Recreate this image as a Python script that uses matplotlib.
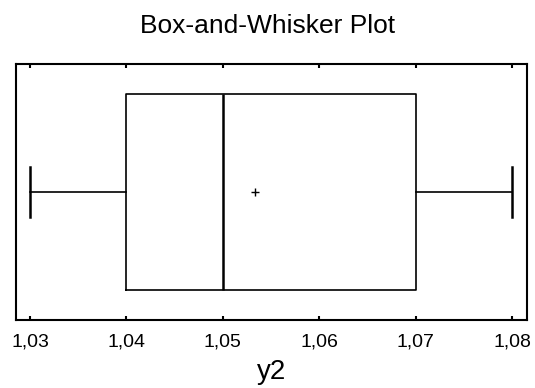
import matplotlib
matplotlib.use('Agg')
import matplotlib.pyplot as plt

plt.rcParams['font.family'] = ['Liberation Sans', 'DejaVu Sans']

# summary statistics of y2
q1 = 1.04
median = 1.05
q3 = 1.07
whisker_lo = 1.03
whisker_hi = 1.08
mean = 1.0533

ticks = [1.03, 1.04, 1.05, 1.06, 1.07, 1.08]
tick_labels = ['1,03', '1,04', '1,05', '1,06', '1,07', '1,08']

stats = [{
    'med': median, 'q1': q1, 'q3': q3,
    'whislo': whisker_lo, 'whishi': whisker_hi,
    'mean': mean, 'fliers': [],
}]

fig = plt.figure(figsize=(5.35, 3.88), dpi=100)
ax = fig.add_axes([16/535, 1 - 320/388, 511/535, 256/388])

ax.bxp(stats, positions=[0.5], widths=0.766, vert=False, showmeans=True,
       manage_ticks=False, capwidths=0.193,
       boxprops=dict(color='black', linewidth=1.2),
       whiskerprops=dict(color='black', linewidth=1.2),
       capprops=dict(color='black', linewidth=1.8),
       medianprops=dict(color='black', linewidth=1.8),
       meanprops=dict(marker='+', markeredgecolor='black', markersize=6,
                      markeredgewidth=1.0))

ax.set_ylim(0, 1)
ax.set_xlim(1.02855, 1.08156)
ax.set_yticks([])
ax.set_xticks(ticks)
ax.set_xticklabels(tick_labels, fontsize=14)
ax.tick_params(axis='x', direction='in', top=True, length=3, width=1.5, pad=10)
for s in ax.spines.values():
    s.set_linewidth(1.5)

ax.set_xlabel('y2', fontsize=20, labelpad=6)
fig.text(0.5, 1 - 33/388, 'Box-and-Whisker Plot', ha='center', va='baseline', fontsize=19)

fig.savefig('out.png', dpi=100)
